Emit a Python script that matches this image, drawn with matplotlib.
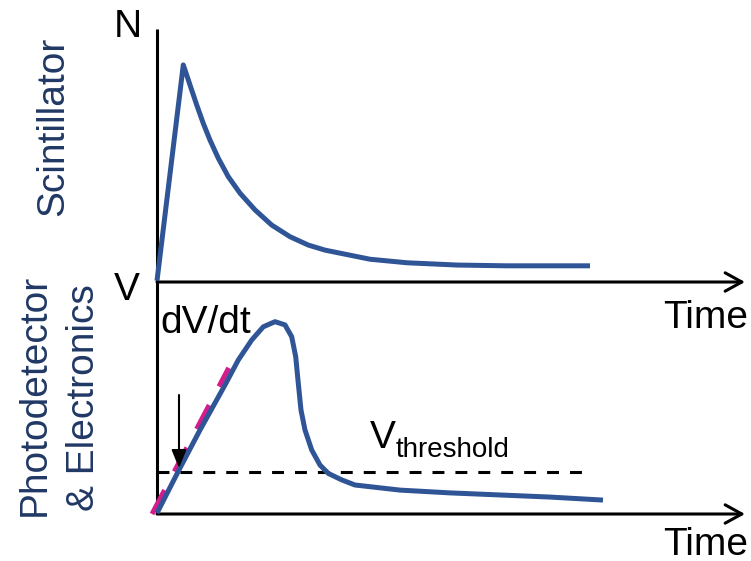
import matplotlib.pyplot as plt

plt.rcParams['font.family'] = ['Liberation Sans', 'DejaVu Sans']

# light output of the scintillator (arbitrary units)
t_scint = [0.0, 4.47, 5.61, 6.75, 7.87, 9.01, 10.43, 12.13, 14.12, 16.67, 19.51, 22.62, 25.73,
           28.57, 31.12, 36.22, 42.52, 51.02, 59.52, 73.64]
n_scint = [0.005, 0.858, 0.779, 0.700, 0.627, 0.561, 0.489, 0.416, 0.351, 0.285, 0.225, 0.179, 0.146,
           0.126, 0.114, 0.090, 0.076, 0.067, 0.064, 0.064]

# pulse after photodetector + electronics
t_pulse = [0.0, 3.74, 7.31, 11.56, 13.83, 16.11, 18.08, 20.07, 21.77, 22.91, 23.59, 24.03, 24.49,
           25.17, 26.31, 27.72, 29.13, 31.41, 33.67, 41.33, 49.83, 58.33, 66.84, 75.85]
v_pulse = [0.004, 0.190, 0.362, 0.556, 0.664, 0.750, 0.807, 0.829, 0.815, 0.764, 0.678, 0.563, 0.448,
           0.362, 0.276, 0.211, 0.175, 0.147, 0.125, 0.103, 0.091, 0.082, 0.073, 0.060]

# threshold level and the dV/dt tangent
v_threshold = 0.181
t_threshold = [0.0, 74.0]
t_slope = [-0.85, 12.2]
v_slope = [0.0, 0.63]

# arrow pointing at the threshold crossing
t_cross = 3.74
v_arrow = [0.513, 0.198]

blue = '#2F5597'
navy = '#203864'
magenta = '#D41C8C'
fs = 28

fig = plt.figure(figsize=(7.51, 5.61), dpi=100)

def fx(x):
    return x / 751

def fy(y):
    return 1 - y / 561

ax1 = fig.add_axes([fx(157), fy(282), 588 / 751, 253 / 561])
ax2 = fig.add_axes([fx(157), fy(514), 588 / 751, 232 / 561])
for ax in (ax1, ax2):
    ax.set_xlim(0, 100)
    ax.set_ylim(0, 1)
    ax.axis('off')
    ax.plot([0, 0], [0, 1], color='black', lw=2.2, clip_on=False, solid_capstyle='butt')
    ax.annotate('', xy=(100, 0), xytext=(0, 0),
                arrowprops=dict(arrowstyle='->, head_length=0.6, head_width=0.33',
                                mutation_scale=20, lw=2.2, color='black',
                                shrinkA=0, shrinkB=0), annotation_clip=False)

ax1.plot(t_scint, n_scint, color=blue, lw=3.6, clip_on=False,
         solid_joinstyle='round', solid_capstyle='butt', zorder=3)

ax2.plot(t_threshold, [v_threshold, v_threshold], color='black', lw=2.2,
         dashes=(3.9, 3.6), clip_on=False, zorder=2)
ax2.plot(t_slope, v_slope, color=magenta, lw=3.6, dashes=(5.4, 4.2),
         dash_capstyle='butt', clip_on=False, zorder=3)
ax2.plot(t_pulse, v_pulse, color=blue, lw=3.6, clip_on=False,
         solid_joinstyle='round', solid_capstyle='butt', zorder=4)
ax2.annotate('', xy=(t_cross, v_arrow[1]), xytext=(t_cross, v_arrow[0]),
             arrowprops=dict(arrowstyle='-|>, head_length=1.1, head_width=0.45',
                             mutation_scale=10, lw=1.5, color='black',
                             shrinkA=0, shrinkB=0), annotation_clip=False, zorder=5)

# axis labels
fig.text(fx(127.5), fy(37), 'N', fontsize=fs, ha='center', va='baseline')
fig.text(fx(127), fy(300), 'V', fontsize=fs, ha='center', va='baseline')
fig.text(fx(748), fy(328), 'Time', fontsize=fs, ha='right', va='baseline')
fig.text(fx(748), fy(555), 'Time', fontsize=fs, ha='right', va='baseline')
fig.text(fx(160.5), fy(333), 'dV/dt', fontsize=fs, ha='left', va='baseline')
fig.text(fx(370), fy(448), 'V', fontsize=fs, ha='left', va='baseline')
fig.text(fx(396), fy(457), 'threshold', fontsize=20, ha='left', va='baseline')

# stage names
fig.text(fx(63), fy(126.5), 'Scintillator', fontsize=fs, color=navy, rotation=90,
         rotation_mode='anchor', ha='center', va='baseline')
fig.text(fx(45), fy(394.5), 'Photodetector', fontsize=fs, color=navy, rotation=90,
         rotation_mode='anchor', ha='center', va='baseline')
fig.text(fx(94), fy(398), '& Electronics', fontsize=fs, color=navy, rotation=90,
         rotation_mode='anchor', ha='center', va='baseline')

fig.savefig('out.png', dpi=100)
